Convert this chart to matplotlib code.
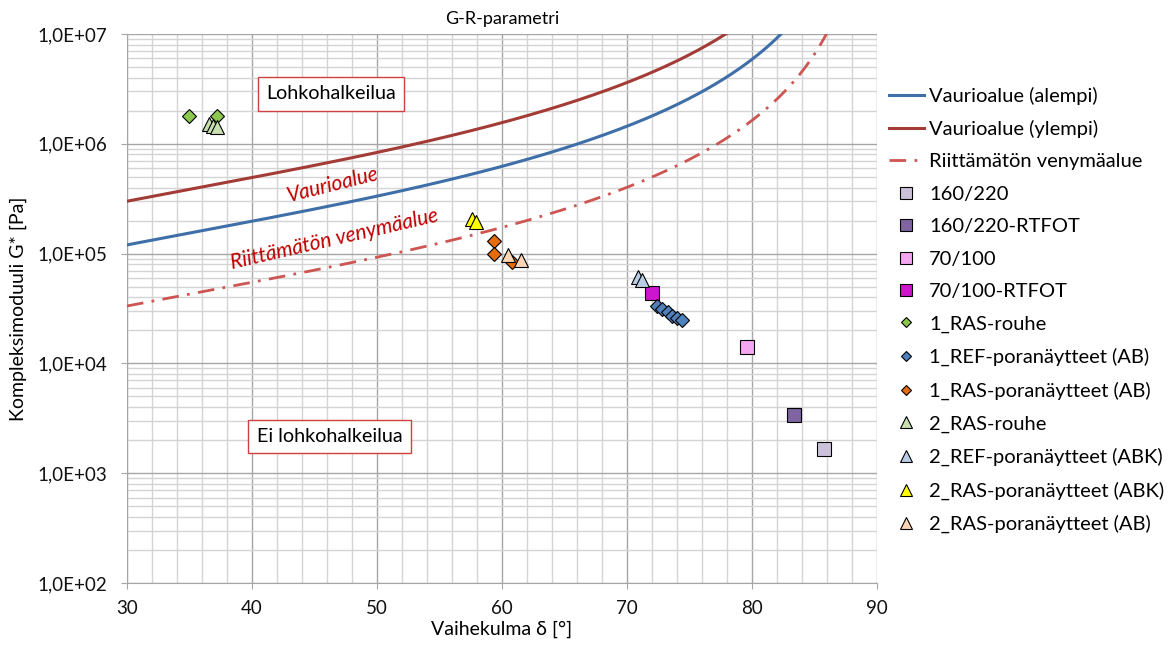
import numpy as np
import matplotlib
matplotlib.use("Agg")
import matplotlib.pyplot as plt
from matplotlib.ticker import FuncFormatter, MultipleLocator, LogLocator, NullFormatter

plt.rcParams['font.family'] = ['Lato', 'DejaVu Sans']

# Glover-Rowe thresholds G*cos^2(d)/sin(d) [Pa]
gr_lower = 180e3      # Vaurioalue (alempi)
gr_upper = 450e3      # Vaurioalue (ylempi)
gr_ductility = 50e3   # Riittämätön venymäalue

# Measured points: phase angle [deg], complex modulus [Pa]
d_160_220 = [85.8]
g_160_220 = [1.66e3]
d_160_220_rt = [83.4]
g_160_220_rt = [3.4e3]
d_70_100 = [79.6]
g_70_100 = [1.41e4]
d_70_100_rt = [72.0]
g_70_100_rt = [4.4e4]
d_1_ras_rouhe = [35.0, 37.2]
g_1_ras_rouhe = [1.79e6, 1.79e6]
d_1_ref_ab = [72.4, 72.8, 73.3, 73.6, 74.0, 74.4]
g_1_ref_ab = [3.3e4, 3.1e4, 2.93e4, 2.7e4, 2.6e4, 2.5e4]
d_1_ras_ab = [59.4, 59.4, 60.8]
g_1_ras_ab = [1.3e5, 1.0e5, 8.4e4]
d_2_ras_rouhe = [36.6, 36.9, 37.2]
g_2_ras_rouhe = [1.5e6, 1.45e6, 1.42e6]
d_2_ref_abk = [70.9, 71.2]
g_2_ref_abk = [6.1e4, 5.8e4]
d_2_ras_abk = [57.6, 57.9]
g_2_ras_abk = [2.05e5, 1.95e5]
d_2_ras_ab = [60.5, 61.5]
g_2_ras_ab = [9.8e4, 8.8e4]

fig = plt.figure(figsize=(11.69, 6.48), dpi=100)
ax = fig.add_axes([0.1086, 0.1003, 0.6416, 0.8472])


def gr_curve(gr, d_end):
    d = np.linspace(30, d_end, 400)
    r = np.radians(d)
    return d, gr * np.sin(r) / np.cos(r) ** 2


d, g = gr_curve(gr_lower, 83)
ax.plot(d, g, color='#3F6FA8', lw=2.2, label='Vaurioalue (alempi)', zorder=3)
d, g = gr_curve(gr_upper, 79)
ax.plot(d, g, color='#A33B37', lw=2.2, label='Vaurioalue (ylempi)', zorder=3)
d, g = gr_curve(gr_ductility, 86.2)
ax.plot(d, g, color='#CD5552', lw=2.0, dashes=(6, 3, 1, 3),
        label='Riittämätön venymäalue', zorder=3)

series = [
    (d_160_220, g_160_220, 's', '#CCC1DA', 10, '160/220'),
    (d_160_220_rt, g_160_220_rt, 's', '#8064A2', 10, '160/220-RTFOT'),
    (d_70_100, g_70_100, 's', '#F5A6F0', 10, '70/100'),
    (d_70_100_rt, g_70_100_rt, 's', '#CC15CC', 10, '70/100-RTFOT'),
    (d_1_ras_rouhe, g_1_ras_rouhe, 'D', '#8CC84B', 7, '1_RAS-rouhe'),
    (d_1_ref_ab, g_1_ref_ab, 'D', '#4F81BD', 7, '1_REF-poranäytteet (AB)'),
    (d_1_ras_ab, g_1_ras_ab, 'D', '#E46C0A', 7, '1_RAS-poranäytteet (AB)'),
    (d_2_ras_rouhe, g_2_ras_rouhe, '^', '#C8E0B0', 10, '2_RAS-rouhe'),
    (d_2_ref_abk, g_2_ref_abk, '^', '#B9CDE5', 10, '2_REF-poranäytteet (ABK)'),
    (d_2_ras_abk, g_2_ras_abk, '^', '#FFFF00', 10, '2_RAS-poranäytteet (ABK)'),
    (d_2_ras_ab, g_2_ras_ab, '^', '#FCD5B5', 10, '2_RAS-poranäytteet (AB)'),
]
for xs, ys, m, c, ms, lab in series:
    ax.plot(xs, ys, linestyle='none', marker=m, markersize=ms, markerfacecolor=c,
            markeredgecolor='black', markeredgewidth=0.8, label=lab, zorder=4)

ax.set_yscale('log')
ax.set_xlim(30, 90)
ax.set_ylim(1e2, 1e7)
ax.xaxis.set_major_locator(MultipleLocator(10))
ax.xaxis.set_minor_locator(MultipleLocator(2))
ax.yaxis.set_major_locator(LogLocator(base=10))
ax.yaxis.set_minor_locator(LogLocator(base=10, subs=np.arange(2, 10)))
ax.yaxis.set_minor_formatter(NullFormatter())
ax.yaxis.set_major_formatter(FuncFormatter(
    lambda v, p: '1,0E+{:02d}'.format(int(round(np.log10(v))))))
ax.grid(which='major', color='#A6A6A6', lw=1.0)
ax.grid(which='minor', color='#D4D4D4', lw=1.0)
ax.set_axisbelow(True)
for s in ['top', 'right']:
    ax.spines[s].set_visible(False)
for s in ['left', 'bottom']:
    ax.spines[s].set_color('#A6A6A6')
ax.tick_params(which='minor', length=0)
ax.tick_params(which='major', length=4, color='#A6A6A6', direction='out',
               labelsize=13.5, labelcolor='#111111')
ax.tick_params(axis='y', which='major', pad=10)
ax.tick_params(axis='x', which='major', pad=8)

ax.set_xlabel('Vaihekulma δ [°]', fontsize=14, labelpad=3)
ax.set_ylabel('Kompleksimoduuli G* [Pa]', fontsize=14, labelpad=8)
ax.set_title('G-R-parametri', fontsize=13, pad=7)

box = dict(boxstyle='square,pad=0.42', facecolor='white', edgecolor='#D04040', lw=1)
ax.text(46.3, 2.85e6, 'Lohkohalkeilua', fontsize=14.2, ha='center', va='center', bbox=box)
ax.text(46.2, 2.15e3, 'Ei lohkohalkeilua', fontsize=14.2, ha='center', va='center', bbox=box)
ax.text(46.5, 4.2e5, 'Vaurioalue', fontsize=15, style='italic', color='#C00000',
        rotation=14, ha='center', va='center')
ax.text(46.6, 1.36e5, 'Riittämätön venymäalue', fontsize=15, style='italic',
        color='#C00000', rotation=13, ha='center', va='center')

ax.legend(loc='upper left', bbox_to_anchor=(1.005, 0.919), frameon=False,
          fontsize=14.5, handlelength=1.75, labelspacing=0.76, handletextpad=0.25,
          borderaxespad=0, markerscale=0.8)

fig.savefig('out.png', dpi=100)
